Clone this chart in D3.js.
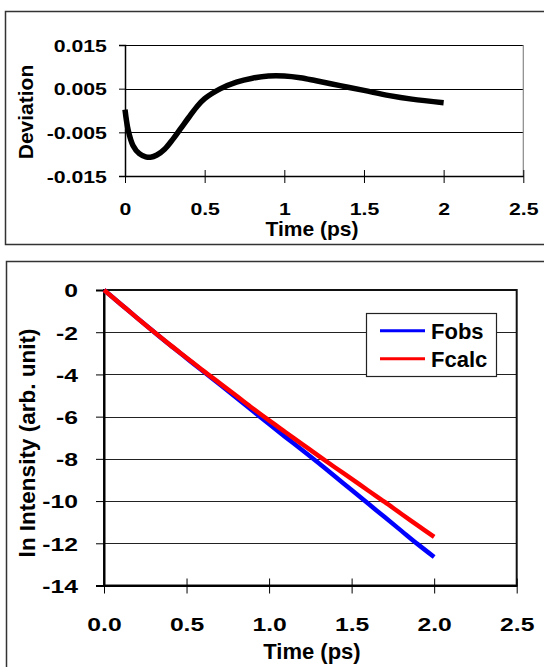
<!DOCTYPE html>
<html><head><meta charset="utf-8">
<script src="https://cdn.jsdelivr.net/npm/d3@7"></script>
<style>body{margin:0;background:#fff}svg{display:block}text{font-family:"Liberation Sans",Arial,sans-serif;font-weight:bold;fill:#000}</style>
</head><body>
<svg id="c" width="544" height="667"></svg>
<script>
// Top panel: deviation vs time
const devTime = [0,0.02,0.05,0.09,0.13,0.16,0.2,0.25,0.3,0.35,0.4,0.45,0.5,0.6,0.7,0.8,0.9,1.0,1.1,1.2,1.35,1.5,1.66,1.8,2.0];
const devValue = [0.0002,-0.0045,-0.0080,-0.0099,-0.0106,-0.0107,-0.0102,-0.0088,-0.0066,-0.0041,-0.0016,0.0008,0.0027,0.0050,0.0065,0.0074,0.0079,0.0079,0.0075,0.0068,0.0057,0.0046,0.0034,0.0026,0.0018];
const devYTicks = [-0.015,-0.005,0.005,0.015];
const devXTicks = [0,0.5,1,1.5,2,2.5];

// Bottom panel: ln intensity
const lnTime = [0,0.1,0.2,0.3,0.4,0.5,0.6,0.7,0.8,0.9,1.0,1.1,1.2,1.3,1.4,1.5,1.6,1.7,1.8,1.9,2.0];
const fobs = [0,-0.66,-1.32,-1.97,-2.61,-3.23,-3.85,-4.47,-5.09,-5.72,-6.35,-6.97,-7.58,-8.2,-8.84,-9.48,-10.12,-10.76,-11.4,-12.04,-12.65];
const fcalc = [0,-0.66,-1.32,-1.97,-2.6,-3.21,-3.82,-4.41,-5.0,-5.6,-6.18,-6.74,-7.3,-7.86,-8.41,-8.95,-9.5,-10.04,-10.6,-11.15,-11.7];
const lnYTicks = [0,-2,-4,-6,-8,-10,-12,-14];
const lnXTicks = [0,0.5,1.0,1.5,2.0,2.5];
const seriesNames = ["Fobs","Fcalc"];
const seriesColors = ["#0000ff","#ff0000"];

const hy = f => d => f(d).replace("\u2212","-");
const svg = d3.select("#c");

// panel frames
svg.append("path").attr("d","M544,11.5 H5.5 V244.5 H544").attr("fill","none").attr("stroke","#333").attr("stroke-width",1.5);
svg.append("path").attr("d","M544,261.5 H6.5 V667").attr("fill","none").attr("stroke","#333").attr("stroke-width",1.5);

// ---------- top panel ----------
const x1 = d3.scaleLinear().domain([0,2.5]).range([125,523.3]);
const y1 = d3.scaleLinear().domain([-0.015,0.015]).range([176,45]);
const g1 = svg.append("g");
g1.selectAll("line.grid").data(devYTicks.filter(d=>d>-0.015)).join("line")
  .attr("x1",x1(0)).attr("x2",x1(2.5)).attr("y1",d=>Math.round(y1(d))+0.5).attr("y2",d=>Math.round(y1(d))+0.5)
  .attr("stroke","#000").attr("stroke-width",1);
g1.append("line").attr("x1",x1(2.5)).attr("x2",x1(2.5)).attr("y1",y1(0.015)).attr("y2",y1(-0.015)).attr("stroke","#888").attr("stroke-width",1.2);
const ax1 = g1.append("g").attr("transform",`translate(0,${y1(-0.015)})`)
  .call(d3.axisBottom(x1).tickValues(devXTicks).tickSize(0).tickFormat(d3.format("")));
ax1.select(".domain").attr("stroke","#000").attr("stroke-width",1.5);
ax1.selectAll(".tick").append("line").attr("y1",-6).attr("y2",7).attr("stroke","#000");
ax1.selectAll(".tick text").attr("y",39).attr("dy",0).style("font-size","17px").attr("transform","scale(1.25,1)");
const ay1 = g1.append("g").attr("transform",`translate(${x1(0)},0)`)
  .call(d3.axisLeft(y1).tickValues(devYTicks).tickSize(6).tickFormat(hy(d3.format(".3f"))));
ay1.select(".domain").attr("stroke","#000").attr("stroke-width",1.5);
ay1.selectAll(".tick text").attr("x",-14.5).attr("dy","0.36em").style("font-size","17px").attr("transform","scale(1.25,1)");
g1.append("path").datum(devTime.map((t,i)=>[t,devValue[i]]))
  .attr("d",d3.line().x(d=>x1(d[0])).y(d=>y1(d[1])).curve(d3.curveCatmullRom.alpha(0.5)))
  .attr("fill","none").attr("stroke","#000").attr("stroke-width",5.5).attr("stroke-linecap","butt");
g1.append("text").attr("x",312).attr("y",236).attr("text-anchor","middle").style("font-size","21px").text("Time (ps)");
g1.append("text").attr("transform","translate(33,112) rotate(-90)").attr("text-anchor","middle").style("font-size","21px").text("Deviation");

// ---------- bottom panel ----------
const x2 = d3.scaleLinear().domain([0,2.5]).range([104,516.7]);
const y2 = d3.scaleLinear().domain([-14,0]).range([585.5,290]);
const g2 = svg.append("g");
g2.selectAll("line.grid").data(lnYTicks.filter(d=>d>-14 && d<0)).join("line")
  .attr("x1",x2(0)).attr("x2",x2(2.5)).attr("y1",d=>Math.round(y2(d))+0.5).attr("y2",d=>Math.round(y2(d))+0.5)
  .attr("stroke","#222").attr("stroke-width",1);
g2.append("rect").attr("x",x2(0)).attr("y",y2(0)).attr("width",x2(2.5)-x2(0)).attr("height",y2(-14)-y2(0))
  .attr("fill","none").attr("stroke","#111").attr("stroke-width",2);
const ax2 = g2.append("g").attr("transform",`translate(0,${y2(-14)})`)
  .call(d3.axisBottom(x2).tickValues(lnXTicks).tickSize(0).tickFormat(d3.format(".1f")));
ax2.select(".domain").attr("stroke","#000").attr("stroke-width",2);
ax2.selectAll(".tick").append("line").attr("y1",-7).attr("y2",8).attr("stroke","#000");
ax2.selectAll(".tick text").attr("y",46).attr("dy",0).style("font-size","19px").attr("transform","scale(1.3,1)");
const ay2 = g2.append("g").attr("transform",`translate(${x2(0)},0)`)
  .call(d3.axisLeft(y2).tickValues(lnYTicks).tickSize(8).tickFormat(hy(d3.format("d"))));
ay2.select(".domain").attr("stroke","#000").attr("stroke-width",2);
ay2.selectAll(".tick text").attr("x",-20).attr("dy","0.36em").style("font-size","19px").attr("transform","scale(1.3,1)");
const lineGen = d3.line().x(d=>x2(d[0])).y(d=>y2(d[1])).curve(d3.curveCatmullRom.alpha(0.5));
[fobs,fcalc].forEach((s,k)=>{
  g2.append("path").datum(lnTime.map((t,i)=>[t,s[i]])).attr("d",lineGen)
    .attr("fill","none").attr("stroke",seriesColors[k]).attr("stroke-width",4.5);
});
const lg = g2.append("g");
lg.append("rect").attr("x",366.5).attr("y",313.5).attr("width",130).attr("height",63).attr("fill","#fff").attr("stroke","#222").attr("stroke-width",1.2);
seriesNames.forEach((n,k)=>{
  const yy = 330.7 + k*28;
  lg.append("line").attr("x1",380).attr("x2",425).attr("y1",yy).attr("y2",yy).attr("stroke",seriesColors[k]).attr("stroke-width",3);
  lg.append("text").attr("x",431).attr("y",yy+7.8).style("font-size","22px").text(n);
});
g2.append("text").attr("x",312).attr("y",659).attr("text-anchor","middle").style("font-size","22px").text("Time (ps)");
g2.append("text").attr("transform","translate(35,443) rotate(-90)").attr("text-anchor","middle").style("font-size","22.5px").text("ln Intensity (arb. unit)");
svg.selectAll(".tick text").attr("fill","#000");
</script>
</body></html>
